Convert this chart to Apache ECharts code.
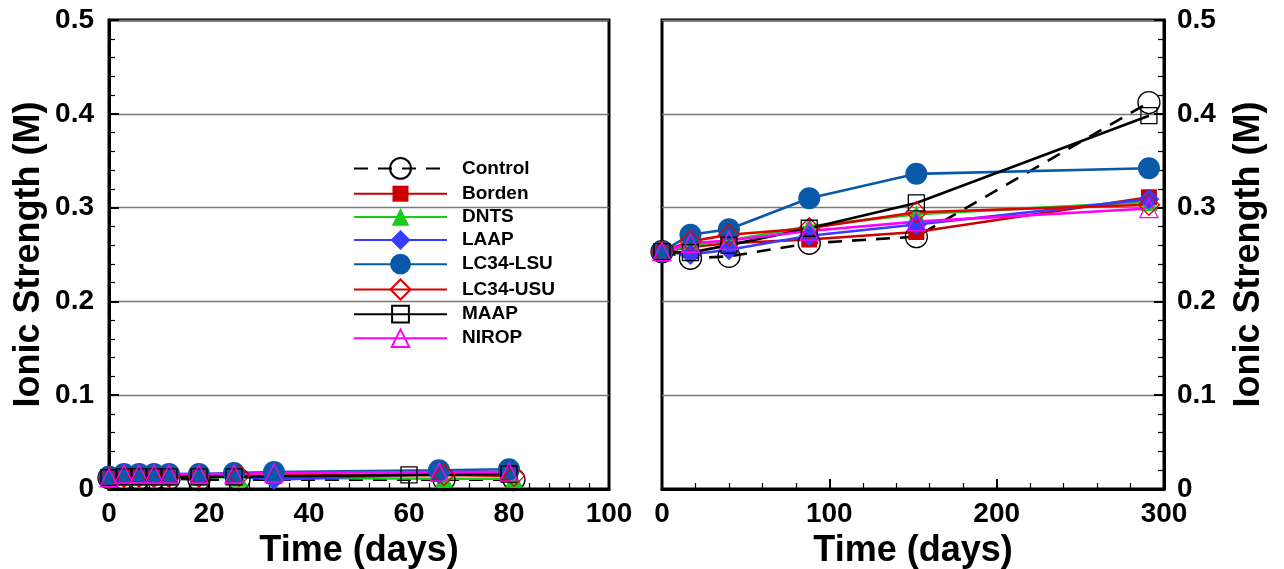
<!DOCTYPE html>
<html>
<head>
<meta charset="utf-8">
<title>Ionic Strength vs Time</title>
<script src="https://cdn.jsdelivr.net/npm/echarts@6/dist/echarts.min.js"></script>
<style>
  html, body { margin: 0; padding: 0; background: #fff; }
  #chart { width: 1284px; height: 569px; }
</style>
</head>
<body>
<div id="chart"></div>
<script>
// ---- Data: short-term experiment (days 0-100) ----
const shortDays        = [0, 3, 6, 9, 12, 18, 25, 33, 66, 80];
const shortDaysControl = [0, 3, 6, 9, 12, 18, 26, 67, 81];
const shortDaysMAAP    = [0, 3, 6, 9, 12, 18, 25, 60, 80];

const shortControl = [0.012, 0.011, 0.011, 0.011, 0.011, 0.010, 0.010, 0.010, 0.010];
const shortBorden  = [0.012, 0.013, 0.013, 0.013, 0.013, 0.013, 0.013, 0.014, 0.016, 0.017];
const shortDNTS    = [0.012, 0.013, 0.013, 0.013, 0.013, 0.013, 0.012, 0.011, 0.011];
const shortLAAP    = [0.013, 0.014, 0.014, 0.014, 0.014, 0.014, 0.014, 0.010, 0.016, 0.018];
const shortLSU     = [0.013, 0.016, 0.016, 0.016, 0.016, 0.016, 0.017, 0.018, 0.020, 0.021];
const shortUSU     = [0.012, 0.013, 0.013, 0.013, 0.013, 0.013, 0.014, 0.015, 0.014];
const shortMAAP    = [0.012, 0.013, 0.013, 0.013, 0.013, 0.013, 0.013, 0.015, 0.016];
const shortNIROP   = [0.012, 0.016, 0.016, 0.016, 0.016, 0.016, 0.016, 0.017, 0.018, 0.018];

// ---- Data: long-term experiment (days 0-300) ----
const longDays    = [0, 17, 40, 88, 152, 291];
const longControl = [0.253, 0.246, 0.248, 0.262, 0.269, 0.412];
const longBorden  = [0.253, 0.258, 0.262, 0.266, 0.274, 0.311];
const longDNTS    = [0.253, 0.260, 0.265, 0.280, 0.293, 0.306];
const longLAAP    = [0.253, 0.250, 0.255, 0.270, 0.282, 0.309];
const longLSU     = [0.253, 0.271, 0.277, 0.310, 0.336, 0.342];
const longUSU     = [0.253, 0.264, 0.271, 0.278, 0.295, 0.303];
const longMAAP    = [0.253, 0.252, 0.260, 0.278, 0.305, 0.398];
const longNIROP   = [0.253, 0.262, 0.265, 0.275, 0.285, 0.299];

const siteNames = ['Control', 'Borden', 'DNTS', 'LAAP', 'LC34-LSU', 'LC34-USU', 'MAAP', 'NIROP'];
const yTicks = [0, 0.1, 0.2, 0.3, 0.4, 0.5];

// ---- Styling for each site ----
const FONT = '"Liberation Sans", Arial, Helvetica, sans-serif';
const CLEAR = 'rgba(0,0,0,0)';
const styles = {
  'Control':  { color: '#000000', symbol: 'circle',   size: 22, fill: CLEAR,     dash: [14, 10], legendH: 26 },
  'Borden':   { color: '#CC0000', symbol: 'rect',     size: 16, fill: '#CC0000', dash: 'solid',  legendH: 20 },
  'DNTS':     { color: '#1ACC1A', symbol: 'triangle', size: 18, fill: '#1ACC1A', dash: 'solid',  legendH: 22 },
  'LAAP':     { color: '#3B3BFF', symbol: 'diamond',  size: 21, fill: '#3B3BFF', dash: 'solid',  legendH: 25 },
  'LC34-LSU': { color: '#0A58A8', symbol: 'circle',   size: 22, fill: '#0A58A8', dash: 'solid',  legendH: 26 },
  'LC34-USU': { color: '#E00000', symbol: 'diamond',  size: 21, fill: CLEAR,     dash: 'solid',  legendH: 25 },
  'MAAP':     { color: '#000000', symbol: 'rect',     size: 16, fill: CLEAR,     dash: 'solid',  legendH: 21 },
  'NIROP':    { color: '#FF00FF', symbol: 'triangle', size: 18, fill: CLEAR,     dash: 'solid',  legendH: 22 }
};

const shortSets = {
  'Control':  [shortDaysControl, shortControl],
  'Borden':   [shortDays, shortBorden],
  'DNTS':     [shortDaysControl, shortDNTS],
  'LAAP':     [shortDays, shortLAAP],
  'LC34-LSU': [shortDays, shortLSU],
  'LC34-USU': [shortDaysControl, shortUSU],
  'MAAP':     [shortDaysMAAP, shortMAAP],
  'NIROP':    [shortDays, shortNIROP]
};
const longSets = {
  'Control':  longControl,
  'Borden':   longBorden,
  'DNTS':     longDNTS,
  'LAAP':     longLAAP,
  'LC34-LSU': longLSU,
  'LC34-USU': longUSU,
  'MAAP':     longMAAP,
  'NIROP':    longNIROP
};

function zip(xs, ys) { return ys.map((y, i) => [xs[i], y]); }

function makeSeries(name, idx, data) {
  const s = styles[name];
  return {
    name: name,
    type: 'line',
    xAxisIndex: idx,
    yAxisIndex: idx,
    data: data,
    symbol: s.symbol,
    symbolSize: s.size,
    showSymbol: true,
    clip: false,
    lineStyle: { color: s.color, width: 2.6, type: s.dash },
    itemStyle: {
      color: s.fill,
      borderColor: s.color,
      borderWidth: s.fill === CLEAR ? 1.3 : 0
    },
    emphasis: { disabled: true }
  };
}

const series = [];
siteNames.forEach(n => {
  const [xs, ys] = shortSets[n];
  series.push(makeSeries(n, 0, zip(xs, ys)));
});
siteNames.forEach(n => {
  series.push(makeSeries(n, 1, zip(longDays, longSets[n])));
});

// One legend block per row so each key symbol keeps its own size
const rowTop = 170, rowStep = 24.2;
const legends = siteNames.map((n, i) => {
  const h = styles[n].legendH;
  return {
    data: [n],
    left: 353,
    top: rowTop + i * rowStep - h / 2,
    orient: 'vertical',
    padding: 0,
    itemWidth: 93,
    itemHeight: h,
    selectedMode: false,
    textStyle: { fontFamily: FONT, fontWeight: 'bold', fontSize: 19, color: '#000', padding: [0, 0, 0, 10] }
  };
});

const axisTitle = { fontFamily: FONT, fontWeight: 'bold', fontSize: 36, color: '#000' };
const tickLabel = { fontFamily: FONT, fontWeight: 'bold', fontSize: 28, color: '#000' };
const blackLine = { color: '#000', width: 3 };

function xAxisCfg(gridIndex, max, interval) {
  return {
    type: 'value', gridIndex: gridIndex, min: 0, max: max, interval: interval,
    name: 'Time (days)', nameLocation: 'middle', nameGap: 40, nameTextStyle: axisTitle,
    axisLine: { show: true, onZero: false, lineStyle: blackLine },
    axisTick: { show: true, inside: true, length: 10, lineStyle: { color: '#000', width: 2 } },
    minorTick: { show: true, splitNumber: 5, length: 6, lineStyle: { color: '#000', width: 1.2 } },
    axisLabel: Object.assign({ margin: 11 }, tickLabel),
    splitLine: { show: false }
  };
}

function yAxisCfg(gridIndex, side) {
  return {
    type: 'value', gridIndex: gridIndex, min: 0, max: 0.5, interval: 0.1, position: side,
    name: 'Ionic Strength (M)', nameLocation: 'middle', nameRotate: 90, nameGap: side === 'left' ? 62 : 67,
    nameTextStyle: axisTitle,
    axisLine: { show: true, onZero: false, lineStyle: blackLine },
    axisTick: { show: true, inside: true, length: 10, lineStyle: { color: '#000', width: 2 } },
    minorTick: { show: true, splitNumber: 5, length: 6, lineStyle: { color: '#000', width: 1.2 } },
    axisLabel: Object.assign({ margin: side === 'left' ? 15 : 13, formatter: v => {
      const t = yTicks.find(k => Math.abs(k - v) < 1e-9);
      return t === undefined ? '' : String(t);
    } }, tickLabel),
    splitLine: { show: true, lineStyle: { color: '#7a7a7a', width: 1.4 } }
  };
}

// Fixed plot rectangles: do not let the library shrink them to fit labels
const gridBase = { top: 20, height: 469, show: true, borderColor: '#000', borderWidth: 3,
                   containLabel: false, outerBoundsMode: 'none' };

const option = {
  animation: false,
  backgroundColor: '#fff',
  grid: [
    Object.assign({ left: 109, width: 500 }, gridBase),
    Object.assign({ left: 662, width: 502 }, gridBase)
  ],
  legend: legends,
  xAxis: [xAxisCfg(0, 100, 20), xAxisCfg(1, 300, 100)],
  yAxis: [yAxisCfg(0, 'left'), yAxisCfg(1, 'right')],
  series: series
};

const chart = echarts.init(document.getElementById('chart'), null, { renderer: 'canvas' });
chart.setOption(option);
</script>
</body>
</html>
